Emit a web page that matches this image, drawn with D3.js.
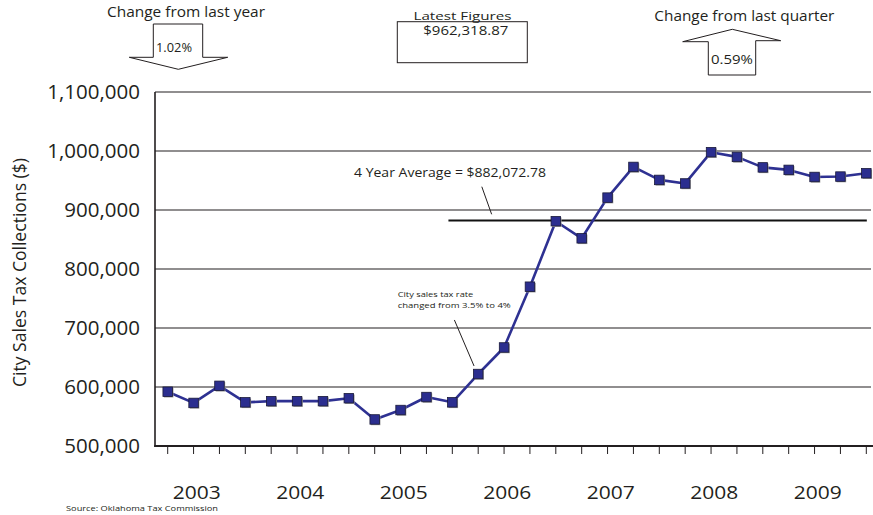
<!DOCTYPE html>
<html>
<head>
<meta charset="utf-8">
<script src="https://cdn.jsdelivr.net/npm/d3@7"></script>
<style>
  html, body { margin: 0; padding: 0; background: #fff; }
  svg { display: block; font-family: "Open Sans", "Noto Sans", sans-serif; }
  text { fill: #231f20; }
</style>
</head>
<body>
<svg id="chart" width="873" height="515"></svg>
<script>
// ---- data ----
const years = [2003, 2004, 2005, 2006, 2007, 2008, 2009];
const quarters = ["Q1", "Q2", "Q3", "Q4"];
const collections = [
  592000, 573000, 602000, 574000,
  576000, 576000, 576000, 581000,
  545000, 561000, 583000, 574000,
  622000, 667000, 770000, 881000,
  852000, 921000, 973000, 951000,
  945000, 998000, 990000, 972240,
  968000, 956000, 956670, 962318.87
];
const yTicks = [500000, 600000, 700000, 800000, 900000, 1000000, 1100000];
const fourYearAverage = 882072.78;
const latestFigure = "$962,318.87";
const changeYear = "1.02%";
const changeQuarter = "0.59%";

// ---- setup ----
const svg = d3.select("#chart");
const periods = [];
years.forEach(y => quarters.forEach(q => periods.push(y + " " + q)));

const x = d3.scaleLinear().domain([0, periods.length - 1]).range([167.7, 866.3]);
const y = d3.scaleLinear().domain([500000, 1100000]).range([446, 92]);
const plotLeft = 155, plotRight = 873;
const ink = "#231f20";

// gridlines
svg.append("g").selectAll("line").data(yTicks.slice(1)).join("line")
  .attr("x1", plotLeft).attr("x2", plotRight - 2)
  .attr("y1", d => y(d)).attr("y2", d => y(d))
  .attr("stroke", ink).attr("stroke-width", 1.1);

// y tick labels
svg.append("g").selectAll("text").data(yTicks).join("text")
  .attr("x", 140).attr("y", d => y(d)).attr("dy", "0.36em")
  .attr("text-anchor", "end").attr("font-size", 20.5)
  .text(d => d3.format(",")(d));

// left axis line
svg.append("line").attr("x1", plotLeft).attr("x2", plotLeft)
  .attr("y1", y(1100000)).attr("y2", y(500000) + 1)
  .attr("stroke", ink).attr("stroke-width", 1.6);
// bottom axis line
svg.append("line").attr("x1", plotLeft - 0.8).attr("x2", plotRight)
  .attr("y1", y(500000)).attr("y2", y(500000))
  .attr("stroke", ink).attr("stroke-width", 2);
// ticks
svg.append("g").selectAll("line").data(periods).join("line")
  .attr("x1", (d, i) => x(i)).attr("x2", (d, i) => x(i))
  .attr("y1", y(500000)).attr("y2", y(500000) + 8)
  .attr("stroke", ink).attr("stroke-width", 1);

// year labels
svg.append("g").selectAll("text").data(years).join("text")
  .attr("x", (d, i) => x(i * 4 + 1.12)).attr("y", 499)
  .attr("text-anchor", "middle").attr("font-size", 18)
  .attr("textLength", 48).attr("lengthAdjust", "spacingAndGlyphs")
  .text(d => d);

// y axis title
svg.append("text")
  .attr("transform", "translate(26,272.5) rotate(-90)")
  .attr("text-anchor", "middle").attr("font-size", 19)
  .attr("textLength", 229).attr("lengthAdjust", "spacingAndGlyphs")
  .text("City Sales Tax Collections ($)");

// 4-year average line
svg.append("line")
  .attr("x1", x(10.85)).attr("x2", x(27.02))
  .attr("y1", y(fourYearAverage)).attr("y2", y(fourYearAverage))
  .attr("stroke", "#111").attr("stroke-width", 2);

// data line
const line = d3.line().x((d, i) => x(i)).y(d => y(d));
svg.append("path").datum(collections)
  .attr("d", line).attr("fill", "none")
  .attr("stroke", "#2e3192").attr("stroke-width", 2.6)
  .attr("stroke-linejoin", "round");

// marker shadows + markers
const ms = 9.5;
svg.append("g").selectAll("rect").data(collections).join("rect")
  .attr("x", (d, i) => x(i) - ms / 2 + 1).attr("y", d => y(d) - ms / 2 + 1)
  .attr("width", ms).attr("height", ms).attr("fill", "#9a9a9a");
svg.append("g").selectAll("rect").data(collections).join("rect")
  .attr("x", (d, i) => x(i) - ms / 2).attr("y", d => y(d) - ms / 2)
  .attr("width", ms).attr("height", ms)
  .attr("fill", "#2b2e8f").attr("stroke", "#1a1a3a").attr("stroke-width", 0.8);

// annotation: 4 year average
svg.append("text").attr("x", 354).attr("y", 177)
  .attr("font-size", 12.6).attr("textLength", 192).attr("lengthAdjust", "spacingAndGlyphs")
  .text("4 Year Average = $" + d3.format(",.2f")(fourYearAverage));
svg.append("line")
  .attr("x1", x(12.14)).attr("y1", y(939500))
  .attr("x2", x(12.52)).attr("y2", y(892700))
  .attr("stroke", ink).attr("stroke-width", 1);

// annotation: tax rate
svg.append("text").attr("x", 397.7).attr("y", 297.3)
  .attr("font-size", 8).attr("textLength", 75.6).attr("lengthAdjust", "spacingAndGlyphs")
  .text("City sales tax rate");
svg.append("text").attr("x", 397.7).attr("y", 308)
  .attr("font-size", 8).attr("textLength", 113).attr("lengthAdjust", "spacingAndGlyphs")
  .text("changed from 3.5% to 4%");
svg.append("line")
  .attr("x1", x(11.08)).attr("y1", y(713600))
  .attr("x2", x(11.84)).attr("y2", y(635600))
  .attr("stroke", ink).attr("stroke-width", 1);

// source
svg.append("text").attr("x", 66).attr("y", 511)
  .attr("font-size", 8).attr("textLength", 152).attr("lengthAdjust", "spacingAndGlyphs")
  .text("Source: Oklahoma Tax Commission");

// ---- header widgets ----
// Change from last year (down arrow)
svg.append("text").attr("x", 186).attr("y", 16.5).attr("text-anchor", "middle")
  .attr("font-size", 15).attr("textLength", 158).attr("lengthAdjust", "spacingAndGlyphs")
  .text("Change from last year");
svg.append("polygon")
  .attr("points", [[153.3,24],[202.7,24],[202.7,57.3],[227.7,57.3],[178.3,69.3],[129.3,57.3],[153.3,57.3]].join(" "))
  .attr("fill", "#fff").attr("stroke", ink).attr("stroke-width", 1);
svg.append("text").attr("x", 156).attr("y", 51.5)
  .attr("font-size", 13.5).attr("textLength", 36).attr("lengthAdjust", "spacingAndGlyphs")
  .text(changeYear);

// Latest figures box
svg.append("rect").attr("x", 397.3).attr("y", 21.7).attr("width", 130).attr("height", 41)
  .attr("fill", "#fff").attr("stroke", ink).attr("stroke-width", 1);
svg.append("text").attr("x", 462.5).attr("y", 19.5).attr("text-anchor", "middle")
  .attr("font-size", 11.5).attr("textLength", 98).attr("lengthAdjust", "spacingAndGlyphs")
  .text("Latest Figures");
svg.append("text").attr("x", 465.8).attr("y", 35.3).attr("text-anchor", "middle")
  .attr("font-size", 12).attr("textLength", 85).attr("lengthAdjust", "spacingAndGlyphs")
  .text(latestFigure);

// Change from last quarter (up arrow)
svg.append("text").attr("x", 744.3).attr("y", 21).attr("text-anchor", "middle")
  .attr("font-size", 15).attr("textLength", 180).attr("lengthAdjust", "spacingAndGlyphs")
  .text("Change from last quarter");
svg.append("polygon")
  .attr("points", [[708.3,75],[708.3,41.7],[682.7,41.7],[732.3,29.3],[780.7,40.7],[755.7,40.7],[755.7,75]].join(" "))
  .attr("fill", "#fff").attr("stroke", ink).attr("stroke-width", 1);
svg.append("text").attr("x", 711).attr("y", 64)
  .attr("font-size", 13.5).attr("textLength", 42).attr("lengthAdjust", "spacingAndGlyphs")
  .text(changeQuarter);
</script>
</body>
</html>
